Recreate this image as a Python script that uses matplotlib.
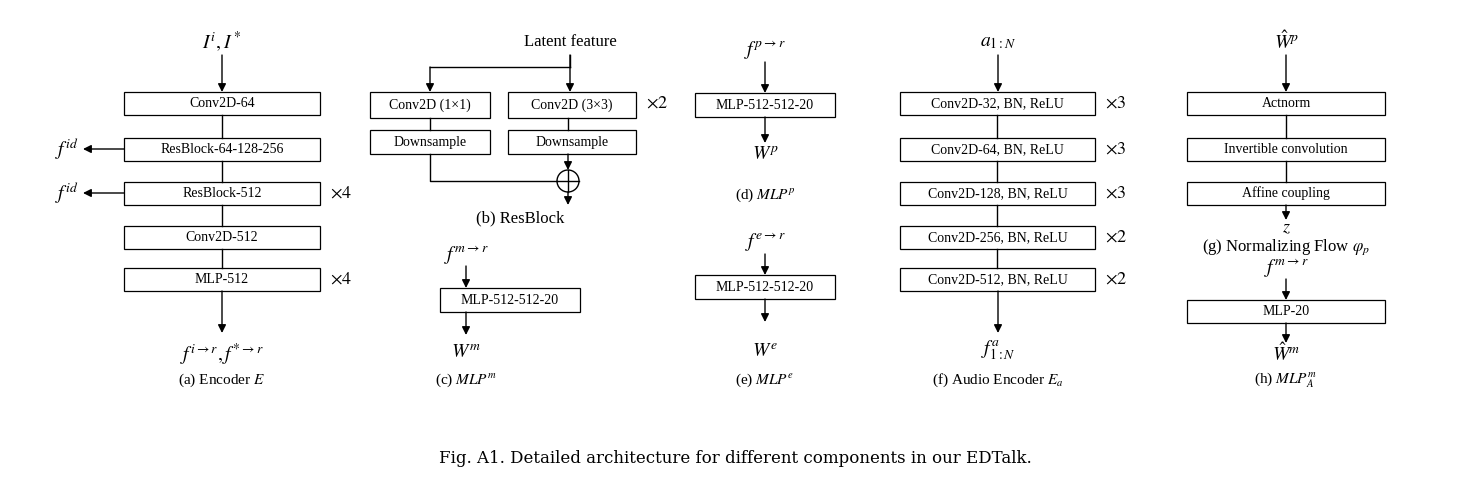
import matplotlib.pyplot as plt
from matplotlib.patches import Rectangle, Circle

plt.rcParams['font.family'] = ['Liberation Serif', 'DejaVu Serif']
plt.rcParams['mathtext.fontset'] = 'stix'

# box labels per column
enc_boxes = ['Conv2D-64', 'ResBlock-64-128-256', 'ResBlock-512', 'Conv2D-512', 'MLP-512']
enc_rep = ['', '', r'$\times 4$', '', r'$\times 4$']
audio_boxes = ['Conv2D-32, BN, ReLU', 'Conv2D-64, BN, ReLU', 'Conv2D-128, BN, ReLU',
               'Conv2D-256, BN, ReLU', 'Conv2D-512, BN, ReLU']
audio_rep = [r'$\times 3$', r'$\times 3$', r'$\times 3$', r'$\times 2$', r'$\times 2$']
flow_boxes = ['Actnorm', 'Invertible convolution', 'Affine coupling']
stack_tops = [92, 138, 182, 226, 268]

fig = plt.figure(figsize=(14.71, 4.86), dpi=100)
ax = fig.add_axes([0, 0, 1, 1])
ax.set_xlim(0, 1471)
ax.set_ylim(486, 0)
ax.axis('off')

BH = 23

def box(x0, x1, y0, label, h=BH, fs=10):
    ax.add_patch(Rectangle((x0, y0), x1 - x0, h, fill=False, lw=0.9, ec='black'))
    ax.text((x0 + x1) / 2, y0 + h / 2, label, ha='center', va='center', fontsize=fs)

def arrow(x0, y0, x1, y1):
    ax.annotate('', xy=(x1, y1), xytext=(x0, y0),
                arrowprops=dict(arrowstyle='-|>', lw=1, color='black', mutation_scale=12,
                                shrinkA=0, shrinkB=0))

def line(xs, ys):
    ax.plot(xs, ys, color='black', lw=1)

def txt(x, y, s, fs=12):
    ax.text(x, y, s, ha='center', va='center', fontsize=fs)

def stack(x0, x1, labels, reps, tops):
    for i, lab in enumerate(labels):
        box(x0, x1, tops[i], lab)
        if reps[i]:
            ax.text(x1 + 10, tops[i] + BH / 2, reps[i], ha='left', va='center', fontsize=13)
        if i > 0:
            line([(x0 + x1) / 2] * 2, [tops[i - 1] + BH, tops[i]])

# (a) Encoder
cx = 222
txt(cx, 42, r'$I^i, I^*$', 14)
arrow(cx, 55, cx, 92)
stack(124, 320, enc_boxes, enc_rep, stack_tops)
for y in (149, 193):
    arrow(124, y, 83, y)
    txt(67, y, r'$f^{id}$', 14)
arrow(cx, 291, cx, 333)
txt(cx, 355, r'$f^{i\to r}, f^{*\to r}$', 14)
txt(cx, 380, r'(a) Encoder $E$', 11)

# (b) ResBlock
txt(570, 42, 'Latent feature', 12)
line([570, 570], [55, 67])
arrow(570, 55, 570, 92)
line([430, 570], [67, 67])
arrow(430, 67, 430, 92)
box(370, 490, 92, 'Conv2D (1×1)', h=26)
box(508, 636, 92, 'Conv2D (3×3)', h=26)
ax.text(646, 103, r'$\times 2$', ha='left', va='center', fontsize=13)
line([430, 430], [118, 130])
line([568, 568], [118, 130])
box(370, 490, 130, 'Downsample', h=24)
box(508, 636, 130, 'Downsample', h=24)
ax.add_patch(Circle((568, 181), 11, fill=False, lw=1, ec='black'))
line([557, 579], [181, 181])
line([568, 568], [170, 192])
line([430, 430, 557], [154, 181, 181])
arrow(568, 154, 568, 170)
arrow(568, 192, 568, 205)
txt(520, 218, '(b) ResBlock', 12)

# (c) MLP^m
txt(466, 255, r'$f^{m\to r}$', 14)
arrow(466, 266, 466, 288)
box(440, 580, 288, 'MLP-512-512-20', h=24)
arrow(466, 312, 466, 335)
txt(466, 353, r'$W^m$', 14)
txt(466, 380, r'(c) $MLP^m$', 11)

# (d), (e)
txt(765, 50, r'$f^{p\to r}$', 14)
arrow(765, 62, 765, 93)
box(695, 835, 93, 'MLP-512-512-20', h=24)
arrow(765, 117, 765, 143)
txt(765, 155, r'$W^p$', 14)
txt(765, 195, r'(d) $MLP^p$', 11)
txt(765, 242, r'$f^{e\to r}$', 14)
arrow(765, 254, 765, 275)
box(695, 835, 275, 'MLP-512-512-20', h=24)
arrow(765, 299, 765, 322)
txt(765, 352, r'$W^e$', 14)
txt(765, 380, r'(e) $MLP^e$', 11)

# (f) Audio encoder
cx = 998
txt(cx, 42, r'$a_{1:N}$', 14)
arrow(cx, 55, cx, 92)
stack(900, 1095, audio_boxes, audio_rep, stack_tops)
arrow(cx, 291, cx, 333)
txt(cx, 350, r'$f^{a}_{1:N}$', 14)
txt(cx, 380, r'(f) Audio Encoder $E_a$', 11)

# (g) Flow, (h) MLP_A^m
cx = 1286
txt(cx, 42, r'$\hat{W}^p$', 14)
arrow(cx, 55, cx, 92)
stack(1187, 1385, flow_boxes, ['', '', ''], stack_tops)
arrow(cx, 205, cx, 220)
txt(cx, 228, r'$z$', 13)
txt(cx, 247, r'(g) Normalizing Flow $\varphi_p$', 12)
txt(cx, 268, r'$f^{m\to r}$', 14)
arrow(cx, 279, cx, 300)
box(1187, 1385, 300, 'MLP-20')
arrow(cx, 323, cx, 343)
txt(cx, 354, r'$\hat{W}^m$', 14)
txt(cx, 380, r'(h) $MLP^m_A$', 11)

ax.text(735, 458, 'Fig. A1. Detailed architecture for different components in our EDTalk.',
        ha='center', va='center', fontsize=12, family=['DejaVu Serif'])

fig.savefig('out.png', dpi=100)
